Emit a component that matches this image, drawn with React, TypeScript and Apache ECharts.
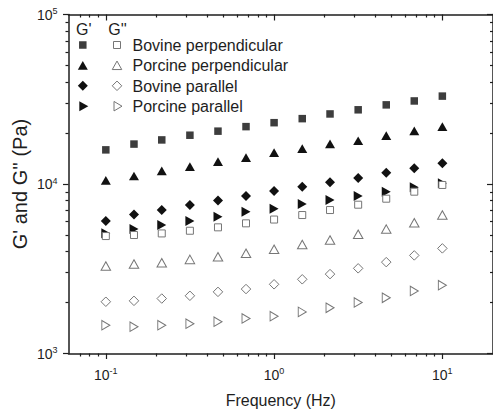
import React, { useEffect, useRef } from 'react';
import * as echarts from 'echarts';

// ---------- data ----------
const frequency = [0.1, 0.147, 0.215, 0.316, 0.464, 0.681, 1, 1.47, 2.15, 3.16, 4.64, 6.81, 10];
const bovinePerpG1 = [15900, 17200, 18200, 19400, 20500, 21800, 23000, 24300, 25900, 27400, 29300, 30900, 33000];
const porcinePerpG1 = [10500, 11150, 11950, 12650, 13550, 14300, 15300, 16150, 17250, 18000, 19300, 20600, 21800];
const bovineParG1 = [6050, 6600, 7020, 7520, 7990, 8490, 9090, 9640, 10250, 10850, 11650, 12400, 13250];
const porcineParG1 = [5130, 5420, 5720, 6050, 6410, 6860, 7150, 7620, 8040, 8490, 9010, 9560, 10100];
const bovinePerpG2 = [4930, 5000, 5110, 5300, 5550, 5860, 6170, 6560, 7020, 7550, 8190, 9010, 9870];
const porcinePerpG2 = [3280, 3370, 3430, 3590, 3720, 3900, 4120, 4400, 4670, 5050, 5420, 5910, 6560];
const bovineParG2 = [2020, 2045, 2110, 2190, 2310, 2400, 2560, 2740, 2940, 3180, 3460, 3790, 4170];
const porcineParG2 = [1470, 1440, 1470, 1500, 1540, 1610, 1660, 1760, 1860, 2000, 2130, 2340, 2530];

const seriesNames = ['Bovine perpendicular', 'Porcine perpendicular', 'Bovine parallel', 'Porcine parallel'];
const storageModulus = [bovinePerpG1, porcinePerpG1, bovineParG1, porcineParG1];
const lossModulus = [bovinePerpG2, porcinePerpG2, bovineParG2, porcineParG2];
const legendHeaders = ["G'", "G''"];

const X_MIN = 0.06;
const X_MAX = 20;
const Y_MIN = 1000;
const Y_MAX = 100000;
const xMajorTicks = [0.1, 1, 10];
const yMajorTicks = [1000, 10000, 100000];
const xDecades = [0.01, 0.1, 1, 10];
const yDecades = [1000, 10000];
const minorMultipliers = [2, 3, 4, 5, 6, 7, 8, 9];

// ---------- styles ----------
const FONT = '"Liberation Sans", Arial, Helvetica, sans-serif';
const AXIS_COLOR = '#1e1e1e';
const TEXT_COLOR = '#1e1e1e';
const OPEN_STROKE = '#767676';
const RIGHT_TRI = 'path://M0,0L10,5L0,10Z';

type Kind = 'square' | 'triangle' | 'diamond' | 'right';
const kinds: Kind[] = ['square', 'triangle', 'diamond', 'right'];
const filledColors = ['#3d3d3d', '#111111', '#111111', '#111111'];
const filledSizes: [number, number][] = [[7.5, 7.5], [10, 8.7], [10, 10], [9, 10]];
const openSizes: [number, number][] = [[7, 7], [9.5, 8.5], [9.5, 9.5], [8, 9.5]];

function echartsSymbol(k: Kind) {
  if (k === 'square') return 'rect';
  if (k === 'triangle') return 'triangle';
  if (k === 'diamond') return 'diamond';
  return RIGHT_TRI;
}

function shapeGraphic(k: Kind, cx: number, cy: number, size: [number, number], style: any) {
  const [w, h] = size;
  if (k === 'square') {
    return { type: 'rect', shape: { x: cx - w / 2, y: cy - h / 2, width: w, height: h }, style };
  }
  let points: number[][];
  if (k === 'triangle') points = [[cx, cy - h / 2], [cx + w / 2, cy + h / 2], [cx - w / 2, cy + h / 2]];
  else if (k === 'diamond') points = [[cx, cy - h / 2], [cx + w / 2, cy], [cx, cy + h / 2], [cx - w / 2, cy]];
  else points = [[cx - w / 2, cy - h / 2], [cx + w / 2, cy], [cx - w / 2, cy + h / 2]];
  return { type: 'polygon', shape: { points }, style };
}

const lg = (v: number) => Math.log10(v);

function minorList(decades: number[], min: number, max: number) {
  const out: number[] = [];
  decades.forEach((d) => {
    minorMultipliers.forEach((m) => {
      const v = d * m;
      if (v > min * 1.0001 && v < max * 0.9999) out.push(lg(v));
    });
  });
  return out;
}

const supFormatter = (v: number) => `{b|10}{s|${Math.round(v)}}`;
const labelRich = {
  b: { fontSize: 14, lineHeight: 16, color: TEXT_COLOR, fontFamily: FONT },
  s: { fontSize: 9, lineHeight: 10, verticalAlign: 'top', color: TEXT_COLOR, fontFamily: FONT },
};

function decoAxis(
  position: string,
  min: number,
  max: number,
  ticks: number[],
  len: number,
  inside: boolean,
  showLine: boolean,
  labels: number[] | null,
  margin: number
) {
  return {
    type: 'value',
    position,
    min,
    max,
    silent: true,
    axisLine: { show: showLine, onZero: false, lineStyle: { color: AXIS_COLOR, width: 1.5 } },
    axisTick: {
      show: true,
      customValues: ticks,
      length: len,
      inside,
      lineStyle: { color: AXIS_COLOR, width: 1.2 },
    },
    axisLabel: labels
      ? {
          show: true,
          customValues: labels,
          formatter: supFormatter,
          rich: labelRich,
          margin,
          fontSize: 14,
          fontFamily: FONT,
          color: TEXT_COLOR,
        }
      : { show: false },
    splitLine: { show: false },
  };
}

export default function App() {
  const ref = useRef<HTMLDivElement>(null);

  useEffect(() => {
    if (!ref.current) return;
    const chart = echarts.init(ref.current, undefined, { renderer: 'svg' });

    const lxMin = lg(X_MIN);
    const lxMax = lg(X_MAX);
    const lyMin = lg(Y_MIN);
    const lyMax = lg(Y_MAX);
    const xMaj = xMajorTicks.map(lg);
    const yMaj = yMajorTicks.map(lg);
    const xMin = minorList(xDecades, X_MIN, X_MAX);
    const yMin = minorList(yDecades, Y_MIN, Y_MAX);

    const series: any[] = [];
    storageModulus.forEach((vals, i) => {
      series.push({
        type: 'scatter',
        name: "G' " + seriesNames[i],
        data: frequency.map((f, j) => [f, vals[j]]),
        symbol: echartsSymbol(kinds[i]),
        symbolSize: filledSizes[i],
        itemStyle: { color: filledColors[i], borderWidth: 0, opacity: 1 },
        silent: true,
      });
    });
    lossModulus.forEach((vals, i) => {
      series.push({
        type: 'scatter',
        name: "G'' " + seriesNames[i],
        data: frequency.map((f, j) => [f, vals[j]]),
        symbol: echartsSymbol(kinds[i]),
        symbolSize: openSizes[i],
        itemStyle: { color: '#ffffff', borderColor: OPEN_STROKE, borderWidth: 1, opacity: 1 },
        silent: true,
      });
    });

    // legend drawn as graphic
    const col1 = 82.8;
    const col2 = 117;
    const rowY = [45, 65.3, 85.8, 106.2];
    const textX = 132.5;
    const graphics: any[] = [
      { type: 'text', x: 76, y: 29, style: { text: legendHeaders[0], font: `16px ${FONT}`, fill: TEXT_COLOR, verticalAlign: 'middle' } },
      { type: 'text', x: 108.3, y: 29, style: { text: legendHeaders[1], font: `16px ${FONT}`, fill: TEXT_COLOR, verticalAlign: 'middle' } },
    ];
    seriesNames.forEach((name, i) => {
      const dx = kinds[i] === 'right' ? 1 : 0;
      graphics.push(shapeGraphic(kinds[i], col1 + dx, rowY[i], filledSizes[i], { fill: filledColors[i] }));
      graphics.push(shapeGraphic(kinds[i], col2 + dx, rowY[i], openSizes[i], { fill: '#fff', stroke: OPEN_STROKE, lineWidth: 1 }));
      graphics.push({
        type: 'text',
        x: textX,
        y: rowY[i] + 0.5,
        style: { text: name, font: `16px ${FONT}`, fill: TEXT_COLOR, verticalAlign: 'middle' },
      });
    });

    chart.setOption({
      animation: false,
      backgroundColor: '#ffffff',
      textStyle: { fontFamily: FONT },
      grid: { left: 68.5, top: 14.5, width: 426, height: 339, containLabel: false },
      xAxis: [
        {
          type: 'log',
          logBase: 10,
          min: X_MIN,
          max: X_MAX,
          position: 'bottom',
          axisLine: { show: true, onZero: false, lineStyle: { color: AXIS_COLOR, width: 1.5 } },
          axisTick: { show: false },
          axisLabel: { show: false },
          splitLine: { show: false },
          name: 'Frequency (Hz)',
          nameLocation: 'middle',
          nameGap: 39,
          nameTextStyle: { fontSize: 16, color: TEXT_COLOR, fontFamily: FONT },
        },
        decoAxis('bottom', lxMin, lxMax, xMaj, 5.5, false, false, xMaj, 13),
        decoAxis('bottom', lxMin, lxMax, xMin, 3, false, false, null, 0),
        decoAxis('top', lxMin, lxMax, xMaj, 6, true, true, null, 0),
        decoAxis('top', lxMin, lxMax, xMin, 3, true, false, null, 0),
      ],
      yAxis: [
        {
          type: 'log',
          logBase: 10,
          min: Y_MIN,
          max: Y_MAX,
          position: 'left',
          axisLine: { show: true, onZero: false, lineStyle: { color: AXIS_COLOR, width: 1.5 } },
          axisTick: { show: false },
          axisLabel: { show: false },
          splitLine: { show: false },
          name: "G' and G'' (Pa)",
          nameLocation: 'middle',
          nameGap: 39,
          nameTextStyle: { fontSize: 20, color: TEXT_COLOR, fontFamily: FONT },
        },
        decoAxis('left', lyMin, lyMax, yMaj, 5.5, false, false, yMaj, 11),
        decoAxis('left', lyMin, lyMax, yMin, 3, false, false, null, 0),
        decoAxis('right', lyMin, lyMax, yMaj, 6, true, true, null, 0),
        decoAxis('right', lyMin, lyMax, yMin, 3, true, false, null, 0),
      ],
      series,
      graphic: graphics,
    });

    return () => chart.dispose();
  }, []);

  return (
    <div
      ref={ref}
      style={{ position: 'absolute', left: 0, top: 0, width: 493, height: 414, background: '#fff' }}
    />
  );
}
